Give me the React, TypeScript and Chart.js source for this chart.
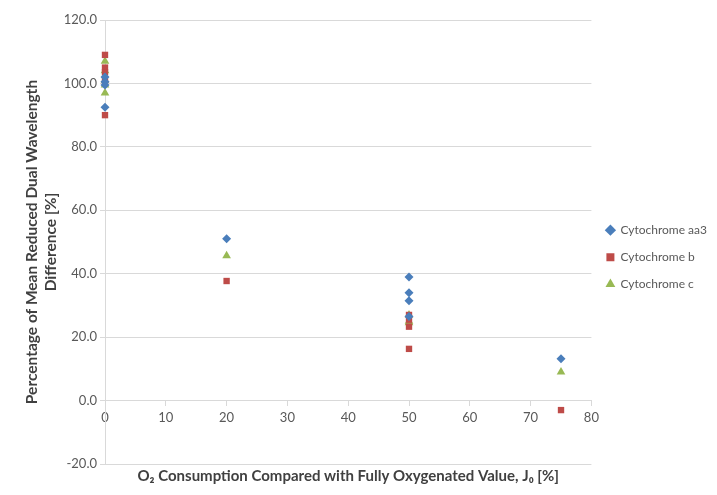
import React, { useEffect, useRef } from "react";
import { Chart, registerables } from "chart.js";

Chart.register(...registerables);

const aa3X = [0, 0, 0, 0, 20, 50, 50, 50, 50, 75];
const aa3Y = [102, 100.5, 99.5, 92.5, 51, 39, 34, 31.5, 26.5, 13.2];
const bX = [0, 0, 0, 0, 0, 20, 50, 50, 50, 50, 75];
const bY = [109, 105, 103.5, 101, 90, 37.7, 27, 25.5, 23.3, 16.3, -3];
const cX = [0, 0, 0, 0, 0, 20, 50, 50, 50, 75];
const cY = [107, 104, 101, 99.5, 97, 45.7, 27, 25, 24.5, 9];

const FONT = "Lato, 'Liberation Sans', sans-serif";
const GRID = "#d9d9d9";
const TICK = "#595959";

function pts(xs: number[], ys: number[]) {
  return xs.map((x, i) => ({ x, y: ys[i] }));
}

export default function App() {
  const ref = useRef<HTMLCanvasElement | null>(null);
  useEffect(() => {
    document.body.style.margin = "0";
    const chart = new Chart(ref.current!, {
      type: "scatter",
      data: {
        datasets: [
          {
            label: "Cytochrome aa3",
            data: pts(aa3X, aa3Y),
            pointStyle: "rectRot",
            pointRadius: 4.5,
            backgroundColor: "#4a7ebb",
            borderColor: "#4a7ebb",
            borderWidth: 0,
            clip: false as any,
          },
          {
            label: "Cytochrome b",
            data: pts(bX, bY),
            pointStyle: "rect",
            pointRadius: 4.5,
            backgroundColor: "#be4b48",
            borderColor: "#be4b48",
            borderWidth: 0,
            clip: false as any,
          },
          {
            label: "Cytochrome c",
            data: pts(cX, cY),
            pointStyle: "triangle",
            pointRadius: 5,
            backgroundColor: "#98b954",
            borderColor: "#98b954",
            borderWidth: 0,
            clip: false as any,
          },
        ],
      },
      options: {
        responsive: false,
        animation: false,
        layout: { padding: { top: 20, right: 0, left: 0, bottom: 0 } },
        plugins: {
          legend: {
            position: "right",
            fullSize: false,
            title: {
              display: true,
              text: " ",
              padding: 8,
              font: { family: FONT, size: 12 },
            },
            labels: {
              usePointStyle: true,
              boxWidth: 8,
              boxHeight: 8,
              padding: 15,
              color: TICK,
              font: { family: FONT, size: 12 },
            },
          },
          title: {
            display: true,
            position: "bottom",
            fullSize: false,
            text: "O\u2082 Consumption Compared with Fully Oxygenated Value, J\u2080 [%]",
            color: "#404040",
            font: { family: FONT, size: 15, weight: "bold" },
            padding: { top: 3, bottom: 10 },
          },
          tooltip: { enabled: false },
        },
        scales: {
          x: {
            type: "linear",
            position: { y: 0 } as any,
            min: 0,
            max: 80,
            ticks: { stepSize: 10, color: TICK, font: { family: FONT, size: 13 }, padding: 4 },
            grid: { display: true, drawOnChartArea: false, drawTicks: true, tickLength: 5, color: GRID },
            border: { color: GRID },
          },
          y: {
            min: -20,
            max: 120,
            ticks: {
              stepSize: 20,
              color: TICK,
              font: { family: FONT, size: 13 },
              callback: (v: any) => Number(v).toFixed(1),
            },
            grid: { color: GRID, tickLength: 5 },
            border: { color: GRID },
            title: {
              display: true,
              text: ["Percentage of Mean Reduced Dual Wavelength", "Difference [%]"],
              color: "#404040",
              font: { family: FONT, size: 15.5, weight: "bold" },
              padding: { top: 23, bottom: 4 },
            },
            afterFit: (s: any) => {
              s.width = 105;
            },
          },
        },
      },
    });
    return () => chart.destroy();
  }, []);
  return <canvas ref={ref} width={717} height={495} />;
}
